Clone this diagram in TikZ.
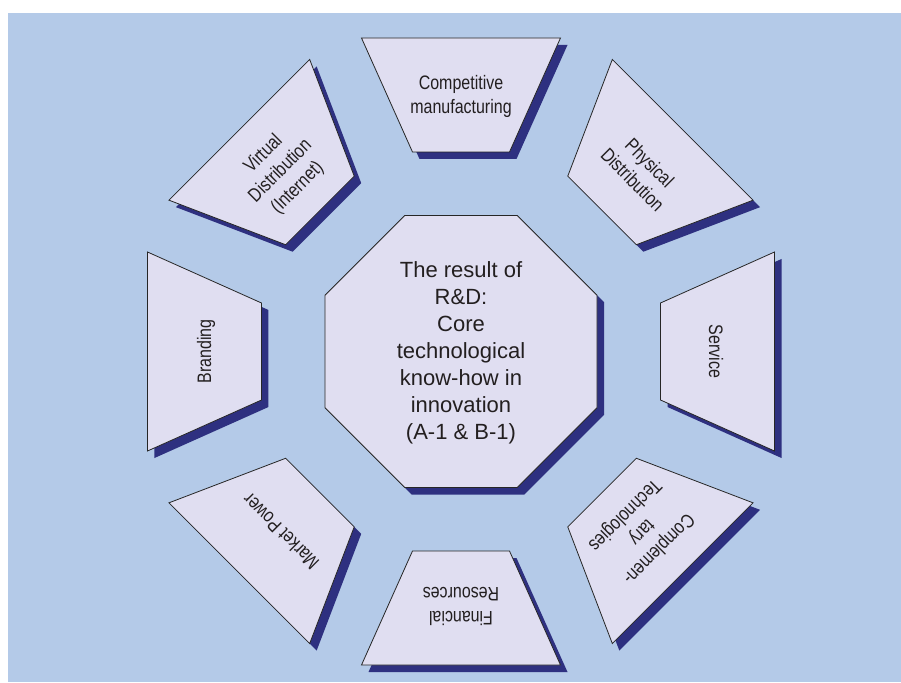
\documentclass[tikz,border=0pt]{standalone}
\usepackage{fontspec}
\setmainfont{Liberation Sans}
\newfontfamily\outerfont[FakeStretch=0.82]{Liberation Sans}
\definecolor{bgblue}{HTML}{B4CAE8}
\definecolor{shapefill}{HTML}{E0DEF1}
\definecolor{shadownavy}{HTML}{2E3080}
\definecolor{txtgray}{HTML}{231F20}
\tikzset{
  shapebox/.style={fill=shapefill, draw=black!85, line width=0.8pt, line join=miter},
  shadowbox/.style={fill=shadownavy},
  outerlabel/.style={align=center, text=txtgray, font=\outerfont\fontsize{19.5}{24}\selectfont, inner sep=0pt},
  centerlabel/.style={align=center, text=txtgray, font=\fontsize{22}{27}\selectfont, inner sep=0pt}
}
\begin{document}
\begin{tikzpicture}[x=1pt,y=1pt]
\useasboundingbox (-461,-330.5) rectangle (440,351.5);
\fill[bgblue] (-453,-330.5) rectangle (440,338.5);
% shadows
\foreach \ang in {90,45,0,-45,-90,-135,180,135}{
  \begin{scope}[shift={(7,-7)},rotate=\ang-90]
    \fill[shadowbox] (-99.5,313.5) -- (99.5,313.5) -- (48.5,199.5) -- (-48.5,199.5) -- cycle;
  \end{scope}
}
\fill[shadowbox,shift={(7,-7)}] (-56.3,136) -- (56.3,136) -- (136,56.3) -- (136,-56.3) -- (56.3,-136) -- (-56.3,-136) -- (-136,-56.3) -- (-136,56.3) -- cycle;
% shapes
\foreach \ang in {90,45,0,-45,-90,-135,180,135}{
  \begin{scope}[rotate=\ang-90]
    \path[shapebox] (-99.5,313.5) -- (99.5,313.5) -- (48.5,199.5) -- (-48.5,199.5) -- cycle;
  \end{scope}
}
\path[shapebox] (-56.3,136) -- (56.3,136) -- (136,56.3) -- (136,-56.3) -- (56.3,-136) -- (-56.3,-136) -- (-136,-56.3) -- (-136,56.3) -- cycle;
% labels
\node[centerlabel] (core) at (0,-1.5) {The result of\\R\&D:\\Core\\technological\\know-how in\\innovation\\(A-1 \& B-1)};
\node[outerlabel, rotate=0] (manuf) at (90:255) {Competitive\\manufacturing};
\node[outerlabel, rotate=-45] (phys) at (45:255) {Physical\\Distribution};
\node[outerlabel, rotate=-90] (serv) at (0:255) {Service};
\node[outerlabel, rotate=-135] (compl) at (-45:255) {Complemen-\\tary\\Technologies};
\node[outerlabel, rotate=180] (fin) at (-90:255) {Financial\\Resources};
\node[outerlabel, rotate=135] (market) at (-135:255) {Market Power};
\node[outerlabel, rotate=90] (brand) at (180:255) {Branding};
\node[outerlabel, rotate=45] (virt) at (135:255) {Virtual\\Distribution\\(Internet)};
\end{tikzpicture}
\end{document}
